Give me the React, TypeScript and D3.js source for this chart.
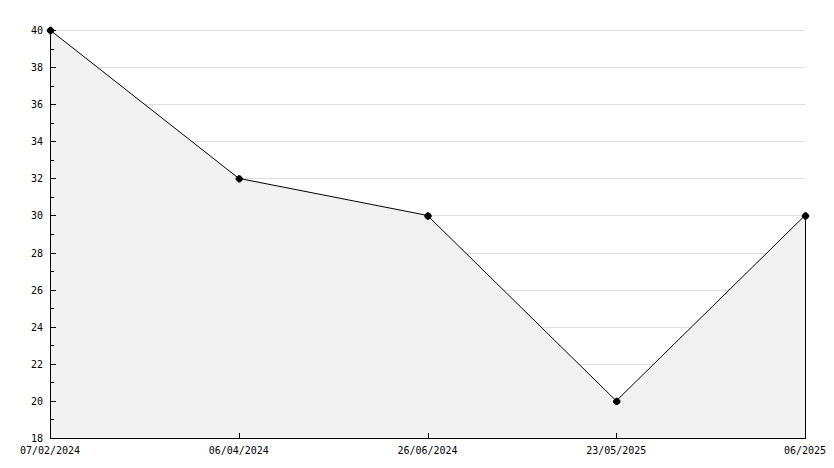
import React from "react";
import * as d3 from "d3";

const categories = ["07/02/2024", "06/04/2024", "26/06/2024", "23/05/2025", "06/2025"];
const values = [40, 32, 30, 20, 30];
const yTicks = [18, 20, 22, 24, 26, 28, 30, 32, 34, 36, 38, 40];
const yMinor = [19, 21, 23, 25, 27, 29, 31, 33, 35, 37, 39];

export default function App() {
  const W = 834, H = 468;
  const left = 50, right = 805, top = 30, bottom = 438;
  const x = d3.scalePoint<string>().domain(categories).range([left, right]);
  const y = d3.scaleLinear().domain([18, 40]).range([bottom, top]);
  const pts: [number, number][] = categories.map((c, i) => [x(c)!, y(values[i])]);
  const area = d3.area<[number, number]>().x(d => d[0]).y0(bottom).y1(d => d[1]);
  const line = d3.line<[number, number]>().x(d => d[0]).y(d => d[1]);
  const font = "'DejaVu Sans Mono', monospace";
  return (
    <svg width={W} height={H} style={{ position: "absolute", left: 0, top: 0, background: "#fff" }}
      shapeRendering="crispEdges">
      {yTicks.filter(t => t > 18).map(t => (
        <line key={"g" + t} x1={left} x2={right} y1={y(t) + 0.5} y2={y(t) + 0.5} stroke="#dddddd" />
      ))}
      <path d={area(pts)!} fill="#f1f1f1" />
      <line x1={right + 0.5} x2={right + 0.5} y1={y(values[values.length - 1])} y2={bottom} stroke="#000" />
      <path d={line(pts)!} fill="none" stroke="#000" shapeRendering="auto" />
      {pts.map((p, i) => (
        <g key={"m" + i} shapeRendering="auto">
          <circle cx={p[0] + 0.5} cy={p[1] + 0.5} r={3.2} fill="#000" />
          <path d={d3.symbol(d3.symbolCross, 30)()!} transform={`translate(${p[0] + 0.5},${p[1] + 0.5})`} fill="#000" />
        </g>
      ))}
      {/* y axis */}
      <line x1={left + 0.5} x2={left + 0.5} y1={top} y2={bottom + 1} stroke="#000" />
      {yTicks.map(t => (
        <g key={"t" + t}>
          <line x1={left} x2={left + 6} y1={y(t) + 0.5} y2={y(t) + 0.5} stroke="#000" />
          <text x={43} y={y(t) + 4} textAnchor="end" fontFamily={font} fontSize={10} fill="#000">{t}</text>
        </g>
      ))}
      {yMinor.map(t => (
        <line key={"n" + t} x1={left} x2={left + 4} y1={y(t) + 0.5} y2={y(t) + 0.5} stroke="#000" />
      ))}
      {/* x axis */}
      <line x1={left} x2={right + 1} y1={bottom + 0.5} y2={bottom + 0.5} stroke="#000" />
      {categories.map(c => (
        <g key={"x" + c}>
          <line x1={x(c)! + 0.5} x2={x(c)! + 0.5} y1={bottom} y2={bottom - 5} stroke="#000" />
          <text x={x(c)!} y={bottom + 16} textAnchor="middle" fontFamily={font} fontSize={10} fill="#000">{c}</text>
        </g>
      ))}
    </svg>
  );
}
